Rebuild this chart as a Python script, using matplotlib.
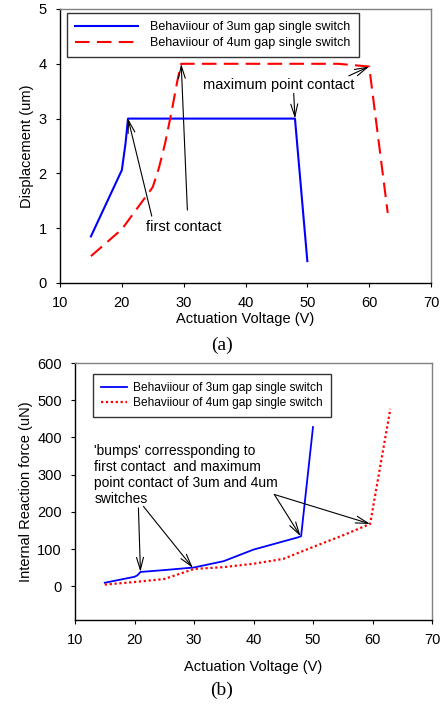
import matplotlib
matplotlib.use("Agg")
import matplotlib.pyplot as plt

# ---- data (a) displacement ----
v3_a = [15, 20, 20.6, 21, 48, 50]
d3_a = [0.85, 2.06, 2.55, 3.0, 3.0, 0.40]
v4_a = [15, 20, 25, 26, 27, 28, 29, 29.6, 35, 40, 45, 50, 55, 60, 63]
d4_a = [0.49, 0.98, 1.75, 2.1, 2.55, 3.1, 3.7, 4.0, 4.0, 4.0, 4.0, 4.0, 4.0, 3.95, 1.28]

# ---- data (b) internal reaction force ----
v3_b = [15, 20, 20.5, 21, 25, 30, 35, 40, 47.5, 48, 50]
f3_b = [10, 26, 30, 39, 44, 51, 68, 99, 132, 135, 428]
v4_b = [15, 20, 25, 30, 35, 40, 45, 50, 55, 59.6, 63]
f4_b = [5, 12, 20, 47, 52, 61, 74, 106, 137, 168, 477]

xticks = [10, 20, 30, 40, 50, 60, 70]
yticks_a = [0, 1, 2, 3, 4, 5]
yticks_b = [0, 100, 200, 300, 400, 500, 600]
lab3 = "Behaviiour of 3um gap single switch"
lab4 = "Behaviiour of 4um gap single switch"

plt.rcParams['font.family'] = ['Liberation Sans', 'DejaVu Sans']

fig = plt.figure(figsize=(4.43, 7.04), dpi=100)
ax1 = fig.add_axes([60/443, 1-283/704, 371/443, 274/704])
ax2 = fig.add_axes([75/443, 1-620/704, 357/443, 257/704])

def style(ax):
    for s in ['top', 'right']:
        ax.spines[s].set_color('#808080')
    for s in ['left', 'bottom']:
        ax.spines[s].set_color('black')
    for s in ax.spines.values():
        s.set_linewidth(1.0)
    ax.tick_params(direction='out', length=3, width=0.8, labelsize=10.5, pad=6.5)

TS = 10.5
arr = dict(arrowstyle='->,head_length=0.9,head_width=0.25', color='black', lw=0.8,
           shrinkA=0, shrinkB=0)

# ---- (a) ----
ax1.plot(v3_a, d3_a, color='#0000ff', lw=1.5, label=lab3)
ax1.plot(v4_a, d4_a, color='#ff0000', lw=1.5, dashes=(7, 3.5), label=lab4)
ax1.set_xlim(10, 70)
ax1.set_ylim(0, 5)
ax1.set_xticks(xticks)
ax1.set_yticks(yticks_a)
style(ax1)
ax1.set_xlabel("Actuation Voltage (V)", fontsize=TS, labelpad=1)
ax1.set_ylabel("Displacement (um)", fontsize=TS, labelpad=3)
leg = ax1.legend(loc='upper left', bbox_to_anchor=(0.019, 0.985), fontsize=9.0,
                 frameon=True, fancybox=False, edgecolor='black', handlelength=5.0,
                 handletextpad=1.0, borderpad=0.65, labelspacing=0.3, borderaxespad=0)
leg.get_frame().set_linewidth(1.0)

ax1.text(23.9, 1.02, "first contact", fontsize=TS, va='center', ha='left')
ax1.text(33.1, 3.61, "maximum point contact", fontsize=TS, va='center', ha='left')
ax1.annotate('', xy=(21, 3.0), xytext=(24.84, 1.22), arrowprops=arr)
ax1.annotate('', xy=(29.6, 4.0), xytext=(30.6, 1.33), arrowprops=arr)
ax1.annotate('', xy=(48, 3.0), xytext=(47.8, 3.46), arrowprops=arr)
ax1.annotate('', xy=(60, 3.95), xytext=(56.7, 3.78), arrowprops=arr)

fig.text(0.5, 1-345/704, "(a)", fontsize=14, family='Liberation Serif', ha='center', va='center')

# ---- (b) ----
ax2.plot(v3_b, f3_b, color='#0000ff', lw=1.3, label=lab3)
ax2.plot(v4_b, f4_b, color='#ff0000', lw=1.6, dashes=(1, 1.2), label=lab4)
ax2.set_xlim(10, 70)
ax2.set_ylim(-90, 600)
ax2.set_xticks(xticks)
ax2.set_yticks(yticks_b)
style(ax2)
ax2.set_xlabel("Actuation Voltage (V)", fontsize=TS, labelpad=9)
ax2.set_ylabel("Internal Reaction force (uN)", fontsize=TS, labelpad=3)
leg2 = ax2.legend(loc='upper left', bbox_to_anchor=(0.05, 0.957), fontsize=8.6,
                  frameon=True, fancybox=False, edgecolor='black', handlelength=2.25,
                  handletextpad=0.5, borderpad=0.65, labelspacing=0.25, borderaxespad=0)
leg2.get_frame().set_linewidth(1.0)

ax2.text(13.25, 382, "'bumps' corressponding to\nfirst contact  and maximum\npoint contact of 3um and 4um\nswitches",
         fontsize=10, va='top', ha='left', linespacing=1.17)
ax2.annotate('', xy=(21, 39), xytext=(20.66, 211), arrowprops=arr)
ax2.annotate('', xy=(29.8, 50), xytext=(21.5, 215), arrowprops=arr)
ax2.annotate('', xy=(47.9, 135), xytext=(43.5, 247), arrowprops=arr)
ax2.annotate('', xy=(59.6, 168), xytext=(43.5, 247), arrowprops=arr)

fig.text(0.5, 1-690/704, "(b)", fontsize=14, family='Liberation Serif', ha='center', va='center')

fig.savefig("out.png", dpi=100)
